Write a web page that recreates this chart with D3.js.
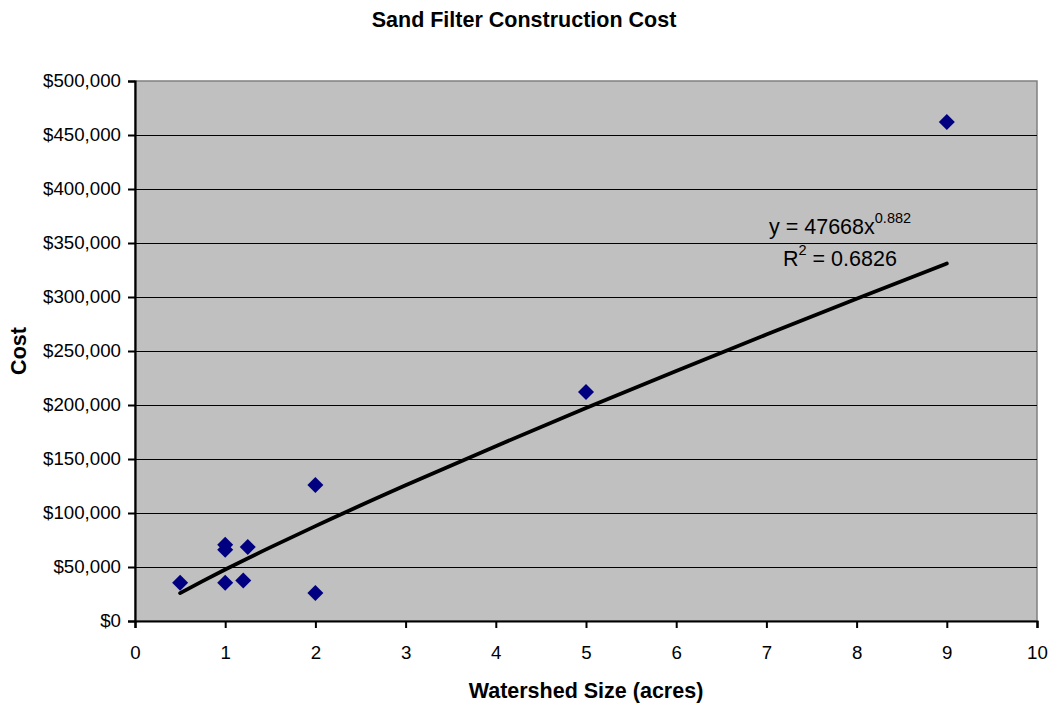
<!DOCTYPE html>
<html><head><meta charset="utf-8">
<script src="https://cdn.jsdelivr.net/npm/d3@7"></script>
<style>body{margin:0;background:#fff}svg{display:block}text{font-family:"Liberation Sans",Arial,sans-serif}</style>
</head><body>
<svg id="c" width="1052" height="709"></svg>
<script>
const watershedAcres = [0.5, 1, 1, 1.25, 1, 1.2, 2, 2, 5, 9];
const costUSD = [35500, 70500, 66000, 68500, 35500, 37500, 26000, 126000, 212000, 462000];
const trendCoef = 47668, trendExp = 0.882, trendR2 = 0.6826;
const trendXs = [0.5, 0.75, 1, 1.5, 2, 3, 4, 5, 6, 7, 8, 9];
const xTicks = [0,1,2,3,4,5,6,7,8,9,10];
const yTicks = [0,50000,100000,150000,200000,250000,300000,350000,400000,450000,500000];

const svg = d3.select("#c");
const L=135, R=1037, T=81, B=621;
const x = d3.scaleLinear().domain([0,10]).range([L,R]);
const y = d3.scaleLinear().domain([0,500000]).range([B,T]);

svg.append("rect").attr("x",L).attr("y",T).attr("width",R-L).attr("height",B-T)
  .attr("fill","#c0c0c0").attr("stroke","#808080").attr("stroke-width",1.5);

// gridlines
svg.append("g").selectAll("line").data(yTicks.slice(1,-1)).join("line")
  .attr("x1",L).attr("x2",R).attr("y1",d=>Math.round(y(d))+0.5).attr("y2",d=>Math.round(y(d))+0.5)
  .attr("stroke","#000").attr("stroke-width",1).attr("shape-rendering","crispEdges");

const fmt = d=>"$"+d3.format(",")(d);
const ya = svg.append("g").attr("transform",`translate(${L},0)`)
  .call(d3.axisLeft(y).tickValues(yTicks).tickFormat(fmt).tickSize(7).tickPadding(7));
const xa = svg.append("g").attr("transform",`translate(0,${B})`)
  .call(d3.axisBottom(x).tickValues(xTicks).tickSize(7));
[ya,xa].forEach(a=>{
  a.selectAll("path").attr("stroke","#000").attr("stroke-width",2.2);
  a.selectAll("line").attr("stroke","#000").attr("stroke-width",2);
  a.selectAll("text").attr("font-size",18.7).attr("fill","#000").style("font-family","Liberation Sans, Arial, sans-serif");
});
xa.selectAll("text").attr("y",38).attr("dy",0);

// trendline
const line = d3.line().x(d=>x(d)).y(d=>y(trendCoef*Math.pow(d,trendExp))).curve(d3.curveMonotoneX);
svg.append("path").datum(trendXs).attr("d",line).attr("fill","none")
  .attr("stroke","#000").attr("stroke-width",3.8).attr("stroke-linecap","round");

// points
const pts = watershedAcres.map((a,i)=>[a,costUSD[i]]);
svg.append("g").selectAll("path").data(pts).join("path")
  .attr("transform",d=>`translate(${x(d[0])},${y(d[1])})`)
  .attr("d","M0,-8L8,0L0,8L-8,0Z").attr("fill","#000080");

// equation
const eq = svg.append("text").attr("x",769).attr("y",234).attr("font-size",21.5).attr("fill","#000");
eq.append("tspan").text("y = "+trendCoef+"x");
eq.append("tspan").attr("dy",-11).attr("font-size",14.5).text(String(trendExp));
const r2 = svg.append("text").attr("x",783).attr("y",266).attr("font-size",21.5).attr("fill","#000");
r2.append("tspan").text("R");
r2.append("tspan").attr("dy",-11).attr("font-size",14.5).text("2");
r2.append("tspan").attr("dy",11).text(" = "+trendR2);

// titles
svg.append("text").attr("x",524).attr("y",27).attr("text-anchor","middle")
  .attr("font-size",21.5).attr("font-weight","bold").text("Sand Filter Construction Cost");
svg.append("text").attr("x",586).attr("y",698).attr("text-anchor","middle")
  .attr("font-size",21.5).attr("font-weight","bold").text("Watershed Size (acres)");
svg.append("text").attr("transform","translate(26,351) rotate(-90)").attr("text-anchor","middle")
  .attr("font-size",21.5).attr("font-weight","bold").text("Cost");
</script>
</body></html>
